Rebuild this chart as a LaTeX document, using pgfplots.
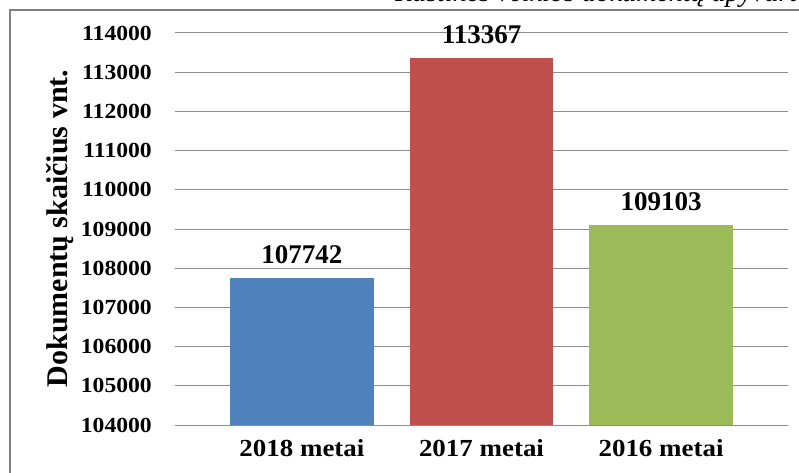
\documentclass[border=0pt]{standalone}
\usepackage{fontspec}
\setmainfont{Liberation Serif}
\newfontfamily\sfont{Liberation Serif}[FakeStretch=1.1]
\usepackage{pgfplots}
\pgfplotsset{compat=1.18}
\definecolor{barblue}{HTML}{4F81BD}
\definecolor{barred}{HTML}{C0504D}
\definecolor{bargreen}{HTML}{9BBB59}
\definecolor{gridgray}{HTML}{8C8C8C}
\definecolor{framegray}{HTML}{808080}
\begin{document}
\begin{tikzpicture}[x=1pt,y=1pt]
\useasboundingbox (0,0) rectangle (799,472);
\clip (0,0) rectangle (799,472);
% outer frame
\draw[framegray, line width=2pt] (10,-5) -- (10,462) -- (810,462);
% caption, cropped at the top edge as in the reference
\node[anchor=base west, inner sep=0pt, font=\fontsize{28}{32}\selectfont\itshape] at (395,470) {Raštinės veiklos dokumentų apyvarta};
\begin{axis}[
  at={(175pt,47pt)}, anchor=south west,
  scale only axis, width=613pt, height=392pt,
  xmin=-0.707, xmax=2.707,
  ymin=104000, ymax=114000,
  ytick={104000,105000,...,114000},
  scaled y ticks=false,
  /pgf/number format/1000 sep={},
  /pgf/number format/assume math mode=true,
  xtick={0,1,2},
  xticklabels={2018 metai,2017 metai,2016 metai},
  major tick length=0pt,
  axis line style={draw=none},
  ymajorgrids,
  major grid style={draw=gridgray, line width=1pt},
  yticklabel style={anchor=east, inner sep=0pt, xshift=-23pt, font=\fontsize{21.5}{25}\selectfont\sfont\bfseries},
  xticklabel style={anchor=base, inner sep=0pt, yshift=-31.7pt, font=\fontsize{24.5}{28}\selectfont\sfont\bfseries},
  ybar, bar width=0.8, bar shift=0pt,
  nodes near coords,
  nodes near coords style={anchor=base, inner sep=0pt, yshift=14.5pt, font=\fontsize{27}{30}\selectfont\bfseries, text=black},
  /pgf/number format/fixed,
]
\addplot[fill=barblue, draw=none] coordinates {(0,107742)};
\addplot[fill=barred, draw=none] coordinates {(1,113367)};
\addplot[fill=bargreen, draw=none] coordinates {(2,109103)};
\end{axis}
\node[rotate=90, anchor=base, inner sep=0pt, font=\fontsize{30}{34}\selectfont\bfseries] at (67,243.5) {Dokumentų skaičius vnt.};
\end{tikzpicture}
\end{document}
